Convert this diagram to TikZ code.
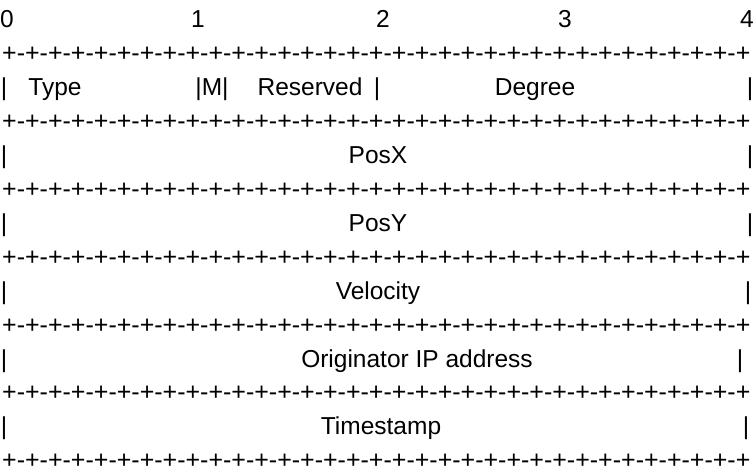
\documentclass[tikz,border=0pt]{standalone}
\usepackage{fontspec}
\setmainfont{Liberation Sans}
\begin{document}
\begin{tikzpicture}[x=1pt,y=-1pt,
    lbl/.style={inner sep=0pt,anchor=base,font=\fontsize{24.5}{24.5}\selectfont},
    seprow/.style={inner sep=0pt,anchor=base west,font=\fontsize{25}{25}\selectfont}]
        \def\plusrow{+-+-+-+-+-+-+-+-+-+-+-+-+-+-+-+-+-+-+-+-+-+-+-+-+-+-+-+-+-+-+-+-+}
        \def\rowh{67.8}

        \useasboundingbox (0,0) rectangle (755,474);

        %------------------
        % ビット位置
        %------------------
        \foreach \x [count=\k from 0] in {7,198,383,565,747}
          \node[lbl] (bit\k) at (\x,27.8) {\k};

        %------------------
        % 区切り線
        %------------------
        \foreach \k in {0,...,6}
          \node[seprow] (sep\k) at (2,{61.8+\rowh*\k}) {\plusrow};

        % 両端の縦線
        \foreach \x [count=\k from 0] in {750,750,750,748,740,746} {
          \node[lbl] (lbar\k) at (4,{95.8+\rowh*\k}) {|};
          \node[lbl] (rbar\k) at (\x,{95.8+\rowh*\k}) {|};
        }

        %------------------
        % フィールド
        %------------------
        \node[lbl] (type) at (55,95.8) {Type};
        \node[lbl] (mflag) at (212,95.8) {|M|};
        \node[lbl] (resv) at (310,95.8) {Reserved};
        \node[lbl] (mbar) at (377,95.8) {|};
        \node[lbl] (degree) at (535,95.8) {Degree};
        \node[lbl] (posx) at (378,163.6) {PosX};
        \node[lbl] (posy) at (378,231.4) {PosY};
        \node[lbl] (velo) at (378,299.2) {Velocity};
        \node[lbl] (orig) at (417,367) {Originator IP address};
        \node[lbl] (tstamp) at (381,434.8) {Timestamp};
      \end{tikzpicture}
\end{document}
